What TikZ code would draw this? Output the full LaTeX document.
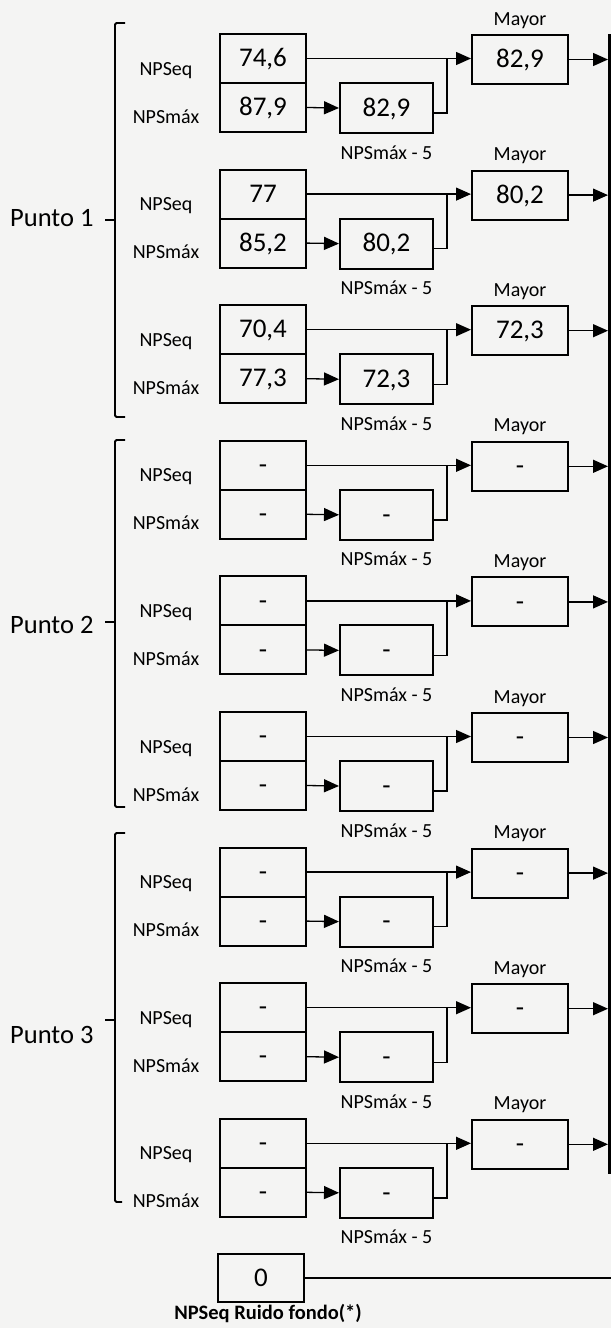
\documentclass[tikz,border=0pt]{standalone}
\usepackage{fontspec}
\setmainfont{Carlito}
\usetikzlibrary{arrows.meta}
\definecolor{paper}{HTML}{F4F4F3}
\begin{document}
\begin{tikzpicture}[x=1pt,y=-1pt,
  box/.style={draw=black,line width=2pt,inner sep=0pt,
    font=\fontsize{27}{30}\selectfont,text height=16.5pt,text depth=0pt},
  lbl/.style={inner sep=0pt,font=\fontsize{20}{24}\selectfont,anchor=base},
  punto/.style={inner sep=0pt,font=\fontsize{26.5}{30}\selectfont,anchor=base west},
  conn/.style={line width=1.3pt,-{Triangle[length=15pt,width=13pt]}},
  plain/.style={line width=1.4pt},
  brace/.style={line width=1.8pt,rounded corners=1.5pt}]
\useasboundingbox (0,0) rectangle (611,1328);
\fill[paper] (0,0) rectangle (611,1328);

% rows
\foreach \k/\a/\b/\c/\d in {0/{74,6}/{87,9}/{82,9}/{82,9},
                            1/{77}/{85,2}/{80,2}/{80,2},
                            2/{70,4}/{77,3}/{72,3}/{72,3},
                            3/-/-/-/-,4/-/-/-/-,5/-/-/-/-,
                            6/-/-/-/-,7/-/-/-/-,8/-/-/-/-}{
  \pgfmathsetmacro{\o}{135.6*\k}
  \node[box,minimum width=86pt,minimum height=49pt] (nseq\k) at (263,58.5+\o) {\a};
  \node[box,minimum width=86pt,minimum height=49pt] (nmax\k) at (263,107.5+\o) {\b};
  \node[box,minimum width=93pt,minimum height=50pt] (nmin\k) at (386.5,108+\o) {\c};
  \node[box,minimum width=96pt,minimum height=49pt] (nmay\k) at (520,59.5+\o) {\d};
  \node[lbl] (lseq\k) at (166,75+\o) {NPSeq};
  \node[lbl] (lmax\k) at (166,123+\o) {NPSmáx};
  \node[lbl] (lmay\k) at (520,25+\o) {Mayor};
  \node[lbl] (lmin\k) at (386.5,159+\o) {NPSmáx - 5};
  \coordinate (jn\k) at (447,59+\o);
  \coordinate (bar\k) at (608,59.5+\o);
  \draw[conn] (nseq\k.east) -- (nseq\k.east -| nmay\k.west);
  \draw[conn] (nmax\k.east) -- (nmin\k.west);
  \draw[plain] ([yshift=-5pt]nmin\k.east) -| (jn\k);
  \draw[conn] (nmay\k.east) -- (bar\k);
}

% collecting bar on the right
\draw[line width=3pt] (611,35) -- (609.5,35) -- (609.5,1172) -- (611,1172);

% group braces
\draw[brace] (125,23) -- (115,23) -- (115,417) -- (125,417);
\draw[line width=1.6pt] (105,220) -- (115,220);
\draw[brace] (125,440) -- (115,440) -- (115,807) -- (125,807);
\draw[line width=1.6pt] (105,622) -- (115,622);
\draw[brace] (125,833) -- (115,833) -- (115,1202) -- (122,1202);
\draw[line width=1.6pt] (105,1020) -- (115,1020);

\node[punto] (p1) at (10,226) {Punto 1};
\node[punto] (p2) at (10,633) {Punto 2};
\node[punto] (p3) at (10,1043) {Punto 3};

% background noise
\node[box,minimum width=86pt,minimum height=48pt] (nzero) at (261,1278) {0};
\coordinate (zend) at (611,1278);
\draw[line width=1.2pt] (nzero.east) -- (zend);
\node[inner sep=0pt,anchor=base,font=\fontsize{20.5}{24}\selectfont\bfseries] (lzero) at (268,1319) {NPSeq Ruido fondo(*)};
\end{tikzpicture}
\end{document}
